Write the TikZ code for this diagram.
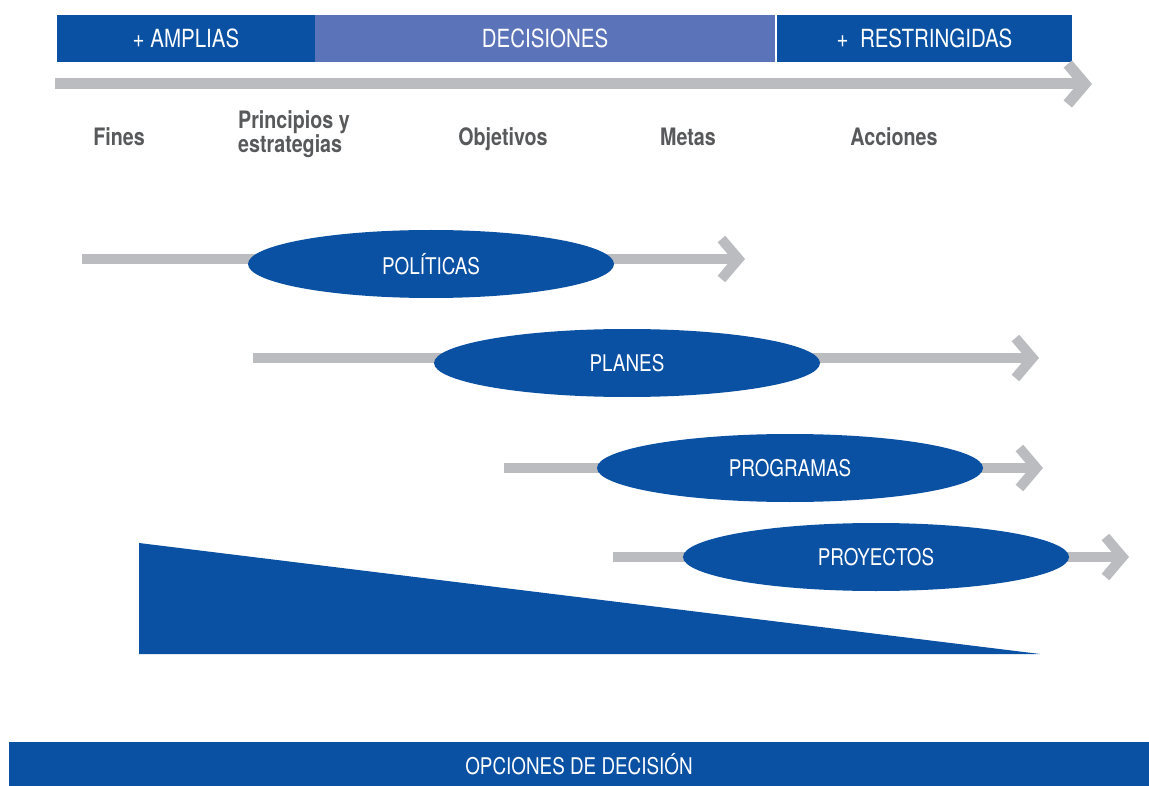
\documentclass[tikz,border=0pt]{standalone}
\usepackage{fontspec}
\setmainfont{TeX Gyre Heros}[FakeStretch=0.82]
\usepackage{tikz}
\usetikzlibrary{arrows.meta,shapes.geometric,positioning}

\definecolor{azul}{HTML}{0A51A3}
\definecolor{azulclaro}{HTML}{5B73B8}
\definecolor{gris}{HTML}{BBBCBF}
\definecolor{grisoscuro}{HTML}{58595B}

\begin{document}
\begin{tikzpicture}[
	x = 1pt, y = -1pt, % pixel-like grid, y grows downwards
	flecha/.style={draw=gris, line width=10pt, -{Straight Barb[length=17pt, width=40pt]}},
	barra/.style={rectangle, inner sep=0pt, minimum height=47pt, text=white, font=\fontsize{25}{27}\selectfont},
	etiqueta/.style={inner sep=0pt, anchor=base, text=grisoscuro, font=\bfseries\fontsize{24}{22}\selectfont},
	E/.style={ellipse, fill=azul, inner sep=0pt, minimum width=386pt, minimum height=68pt, text=white, font=\fontsize{23}{25}\selectfont},
	]
	\useasboundingbox (0,0) rectangle (1149,786);

	% Top bar
	\node[barra, fill=azul, minimum width=258pt] (amplias) at (186,38.5) {+ AMPLIAS};
	\node[barra, fill=azulclaro, minimum width=460pt] (decisiones) at (545,38.5) {DECISIONES};
	\node[barra, fill=azul, minimum width=295pt] (restringidas) at (924.5,38.5) {+~~RESTRINGIDAS};

	% Main axis
	\coordinate (ejeA) at (55,84);
	\coordinate (ejeB) at (1092,84);
	\draw[flecha, line width=11pt] (ejeA) -- (ejeB);

	% Labels under the axis
	\node[etiqueta] (fines) at (119,146) {Fines};
	\node[etiqueta, anchor=base west, align=left] (principios) at (238,153) {Principios y\\estrategias};
	\node[etiqueta] (objetivos) at (503,146) {Objetivos};
	\node[etiqueta] (metas) at (688,146) {Metas};
	\node[etiqueta] (acciones) at (894,146) {Acciones};

	% Lines behind the ellipses
	\coordinate (polA) at (82,259);
	\coordinate (polB) at (745,259);
	\coordinate (plaA) at (253,358);
	\coordinate (plaB) at (1039,358);
	\coordinate (proA) at (504,468);
	\coordinate (proB) at (1043,468);
	\coordinate (proyA) at (613,557);
	\coordinate (proyB) at (1129,557);
	\draw[flecha] (polA) -- (polB);
	\draw[flecha] (plaA) -- (plaB);
	\draw[flecha] (proA) -- (proB);
	\draw[flecha] (proyA) -- (proyB);

	% Ellipses
	\node[E, minimum width=366pt] (politicas) at (431,264) {POLÍTICAS};
	\node[E] (planes) at (627,363) {PLANES};
	\node[E] (programas) at (790,468) {PROGRAMAS};
	\node[E] (proyectos) at (876,557) {PROYECTOS};

	% Wedge
	\fill[azul] (139,543) -- (139,654) -- (1040,654) -- cycle;

	% Bottom bar
	\node[barra, fill=azul, minimum width=1140pt, minimum height=44pt, font=\fontsize{23}{25}\selectfont] (opciones) at (579,764) {OPCIONES DE DECISIÓN};

\end{tikzpicture}
\end{document}
